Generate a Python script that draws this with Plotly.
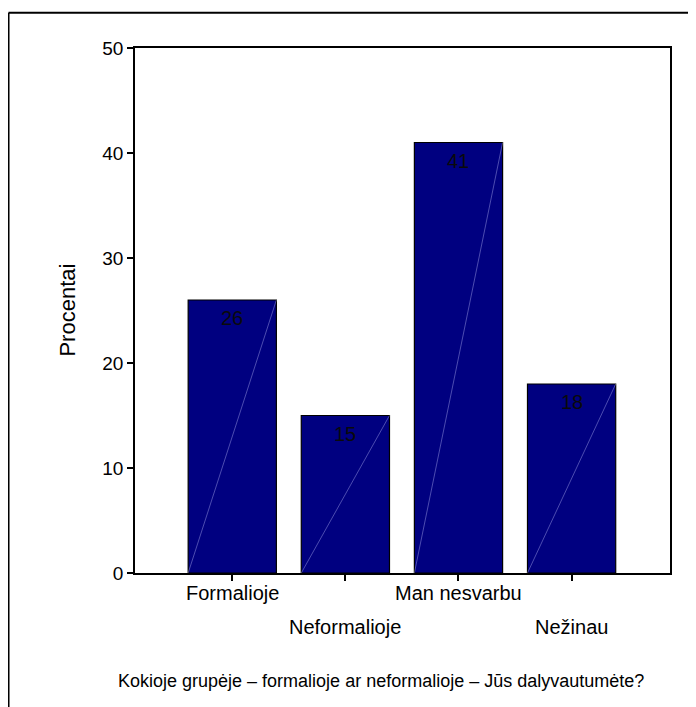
import plotly.graph_objects as go

kategorijos = ["Formalioje", "Neformalioje", "Man nesvarbu", "Nežinau"]
procentai = [26, 15, 41, 18]
y_ticks = [0, 10, 20, 30, 40, 50]

BAR_W = 0.78
FONT = "Liberation Sans, Arial, sans-serif"

x_idx = list(range(len(kategorijos)))

fig = go.Figure()

fig.add_trace(go.Bar(
    x         = x_idx,
    y         = procentai,
    width     = BAR_W,
    marker    = dict(color="#000080", line=dict(color="black", width=1.2)),
    hoverinfo = "skip",
))

# faint diagonal inside each bar (SPSS-style rendering artefact)
shapes = []
for i, v in zip(x_idx, procentai):
    shapes.append(dict(
        type="line", xref="x", yref="y",
        x0=i - BAR_W / 2, y0=0, x1=i + BAR_W / 2, y1=v,
        line=dict(color="rgba(200,200,255,0.55)", width=0.7),
        layer="above",
    ))

# outer frame (left and top edges)
shapes.append(dict(type="line", xref="paper", yref="paper",
                   x0=-0.2364, y0=-0.3, x1=-0.2364, y1=1.067,
                   line=dict(color="black", width=2)))
shapes.append(dict(type="line", xref="paper", yref="paper",
                   x0=-0.2364, y0=1.067, x1=1.06, y1=1.067,
                   line=dict(color="black", width=2)))

annotations = []
# value labels just under the top of each bar
for i, v in zip(x_idx, procentai):
    annotations.append(dict(
        x=i, xref="x", y=v, yref="y", text=str(v), showarrow=False,
        yanchor="middle", yshift=-18,
        font=dict(family=FONT, size=20, color="#0a0a0a"),
    ))
# category labels on two staggered rows
for i, k in enumerate(kategorijos):
    annotations.append(dict(
        x=i, xref="x", y=-0.038 if i % 2 == 0 else -0.103, yref="paper",
        text=k, showarrow=False, yanchor="middle",
        font=dict(family=FONT, size=20, color="black"),
    ))
annotations.append(dict(
    x=0.46, xref="paper", y=-0.206, yref="paper",
    text="Kokioje grupėje – formalioje ar neformalioje – Jūs dalyvautumėte?",
    showarrow=False, xanchor="center", yanchor="middle",
    font=dict(family=FONT, size=18, color="black"),
))
annotations.append(dict(
    x=-0.127, xref="paper", y=0.5, yref="paper",
    text="Procentai", textangle=-90, showarrow=False,
    xanchor="center", yanchor="middle",
    font=dict(family=FONT, size=22, color="black"),
))

fig.update_layout(
    width         = 688,
    height        = 699,
    margin        = dict(l=127, r=26, t=40, b=134),
    showlegend    = False,
    paper_bgcolor = "white",
    plot_bgcolor  = "white",
    shapes        = shapes,
    annotations   = annotations,
    xaxis = dict(
        range=[-0.86, 3.87], tickvals=x_idx, ticktext=[""] * len(x_idx),
        ticks="outside", ticklen=6, tickcolor="black", tickwidth=1.5,
        showline=True, linecolor="black", linewidth=1.5, mirror=True,
        showgrid=False, zeroline=False, fixedrange=True,
    ),
    yaxis = dict(
        range=[0, 50], tickvals=y_ticks,
        ticks="outside", ticklen=6, tickcolor="black", tickwidth=1.5,
        tickfont=dict(family=FONT, size=19, color="black"),
        showline=True, linecolor="black", linewidth=1.5, mirror=True,
        showgrid=False, zeroline=False, fixedrange=True,
    ),
)

fig.write_html("out.html")
